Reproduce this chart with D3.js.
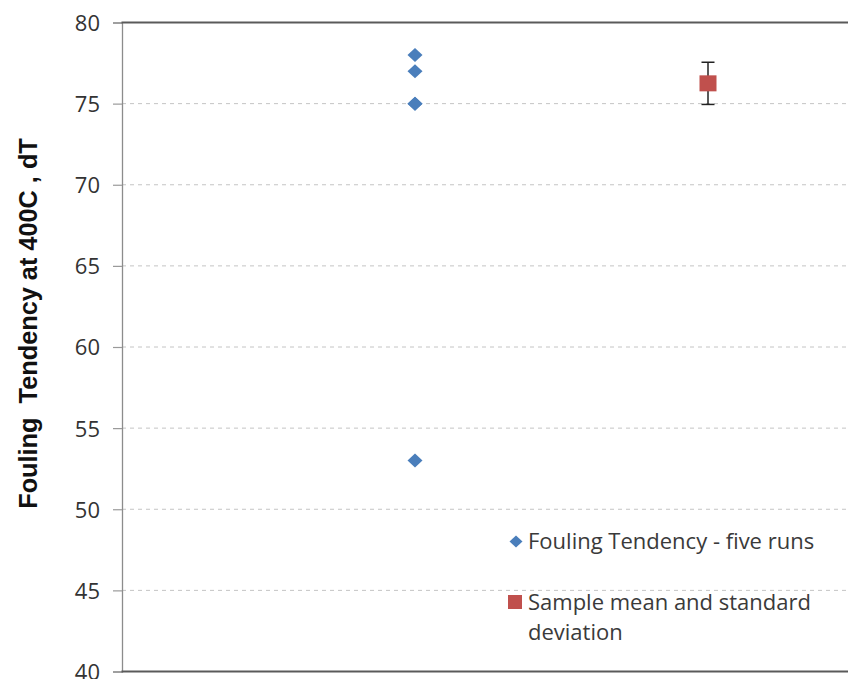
<!DOCTYPE html>
<html>
<head>
<meta charset="utf-8">
<script src="https://cdn.jsdelivr.net/npm/d3@7"></script>
<style>
  html, body { margin: 0; padding: 0; background: #fff; }
  svg { display: block; }
</style>
</head>
<body>
<svg id="chart" width="848" height="679"></svg>
<script>
// Five fouling-tendency runs (all at the same sample position)
const runPositions = [1, 1, 1, 1, 1];
const runValues = [78, 77, 75, 75, 53];

// Sample mean and standard deviation (of the consistent runs)
const meanPositions = [2];
const meanValues = [76.25];
const sdValues = [1.3];

const yTicks = [40, 45, 50, 55, 60, 65, 70, 75, 80];

const legendLabels = [
  ["Fouling Tendency - five runs"],
  ["Sample mean and standard", "deviation"]
];
const yTitle = "Fouling  Tendency at 400C , dT";

const W = 848, H = 679;
const plot = { left: 122, top: 22.5, bottom: 671.5, right: 1001 };

const svg = d3.select("#chart");

const x = d3.scaleLinear().domain([0, 3]).range([plot.left, plot.right]);
const y = d3.scaleLinear().domain([40, 80]).range([plot.bottom, plot.top]);

// Dashed horizontal gridlines
svg.append("g")
  .selectAll("line")
  .data(yTicks.filter(t => t > 40 && t < 80))
  .join("line")
  .attr("x1", plot.left).attr("x2", W)
  .attr("y1", d => y(d)).attr("y2", d => y(d))
  .attr("stroke", "#c4c4c4")
  .attr("stroke-width", 1)
  .attr("stroke-dasharray", "4,4");

// Y axis with outward ticks
const yAxis = d3.axisLeft(y).tickValues(yTicks).tickSize(9).tickPadding(13).tickFormat(d3.format("d"));
const gy = svg.append("g").attr("transform", `translate(${plot.left},0)`).call(yAxis);
gy.select(".domain").attr("stroke", "#8c8c8c").attr("stroke-width", 1.3);
gy.selectAll(".tick line").attr("stroke", "#9a9a9a").attr("stroke-width", 1.2);
gy.selectAll(".tick text")
  .attr("font-family", "'Open Sans', sans-serif")
  .attr("font-size", 22)
  .attr("fill", "#333")
  .attr("dy", "0.36em");

// Top and bottom frame lines
svg.append("g")
  .selectAll("line")
  .data([80, 40])
  .join("line")
  .attr("x1", plot.left - 0.5).attr("x2", W)
  .attr("y1", d => y(d)).attr("y2", d => y(d))
  .attr("stroke", "#5a5a5a")
  .attr("stroke-width", 2);

// Axis title
svg.append("text")
  .attr("transform", `translate(37,${323.5}) rotate(-90)`)
  .attr("text-anchor", "middle")
  .attr("font-family", "'Liberation Sans', Arial, sans-serif")
  .attr("font-weight", "bold")
  .attr("font-size", 25.3)
  .attr("fill", "#111")
  .attr("xml:space", "preserve")
  .style("white-space", "pre")
  .text(yTitle);

const diamond = (cx, cy, hw, hh) => `M${cx},${cy - hh}L${cx + hw},${cy}L${cx},${cy + hh}L${cx - hw},${cy}Z`;

// Individual runs
svg.append("g")
  .selectAll("path")
  .data(runValues.map((v, i) => ({ x: runPositions[i], v })))
  .join("path")
  .attr("d", d => diamond(x(d.x), y(d.v), 7.5, 7))
  .attr("fill", "#4a7ebb");

// Error bar for mean +/- sd
const eb = svg.append("g").selectAll("g")
  .data(meanValues.map((m, i) => ({ x: meanPositions[i], m, sd: sdValues[i] })))
  .join("g")
  .attr("stroke", "#222")
  .attr("stroke-width", 1.5);
eb.append("line")
  .attr("x1", d => x(d.x)).attr("x2", d => x(d.x))
  .attr("y1", d => y(d.m + d.sd)).attr("y2", d => y(d.m - d.sd));
eb.append("line")
  .attr("x1", d => x(d.x) - 6.5).attr("x2", d => x(d.x) + 6.5)
  .attr("y1", d => y(d.m + d.sd)).attr("y2", d => y(d.m + d.sd));
eb.append("line")
  .attr("x1", d => x(d.x) - 6.5).attr("x2", d => x(d.x) + 6.5)
  .attr("y1", d => y(d.m - d.sd)).attr("y2", d => y(d.m - d.sd));

// Mean marker
svg.append("g")
  .selectAll("rect")
  .data(meanValues.map((m, i) => ({ x: meanPositions[i], m })))
  .join("rect")
  .attr("x", d => x(d.x) - 8.5).attr("y", d => y(d.m) - 8)
  .attr("width", 17).attr("height", 16)
  .attr("fill", "#c0504d");

// Legend
const legend = svg.append("g").attr("font-family", "'Open Sans', sans-serif").attr("font-size", 22).attr("fill", "#3a3a3a");
legend.append("path").attr("d", diamond(516, 541.5, 6.5, 6)).attr("fill", "#4a7ebb");
legend.append("rect").attr("x", 508).attr("y", 595).attr("width", 14).attr("height", 14).attr("fill", "#c0504d");
const legendY = [549, 610];
legendLabels.forEach((lines, i) => {
  const t = legend.append("text").attr("x", 528).attr("y", legendY[i]);
  lines.forEach((ln, j) => {
    t.append("tspan").attr("x", 528).attr("dy", j === 0 ? 0 : 29.5).text(ln);
  });
});
</script>
</body>
</html>
